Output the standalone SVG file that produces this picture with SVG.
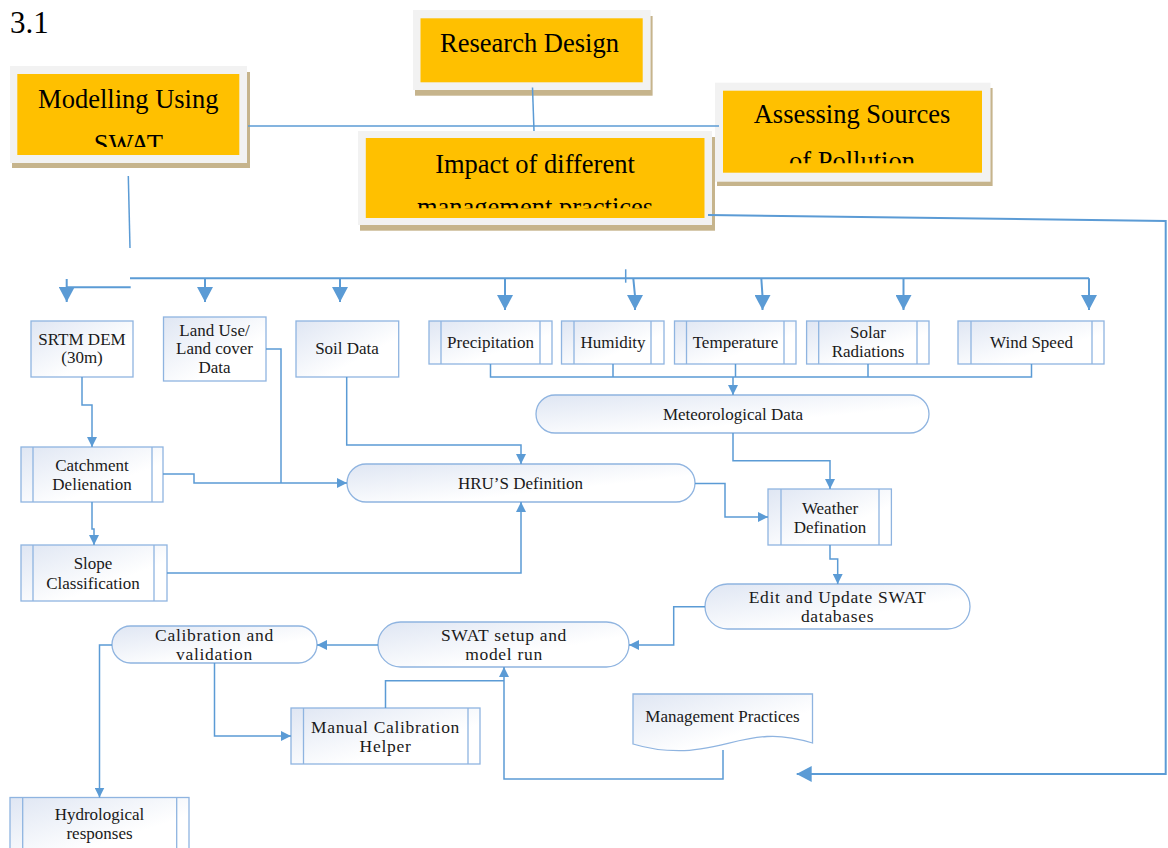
<svg xmlns="http://www.w3.org/2000/svg" width="1168" height="848" viewBox="0 0 1168 848">
  <defs>
    <linearGradient id="fillGrad" x1="0" y1="0" x2="1" y2="1">
      <stop offset="0" stop-color="#dfe6f3"/>
      <stop offset="0.65" stop-color="#ffffff"/>
      <stop offset="1" stop-color="#ffffff"/>
    </linearGradient>
    <marker id="arr" viewBox="0 0 10 10" refX="10" refY="5" markerWidth="10" markerHeight="10" markerUnits="userSpaceOnUse" orient="auto">
      <path d="M0,0 L10,5 L0,10 Z" fill="#5b9bd5"/>
    </marker>
    <marker id="arrBig" viewBox="0 0 15 16" refX="15" refY="8" markerWidth="15" markerHeight="16" markerUnits="userSpaceOnUse" orient="auto">
      <path d="M0,0 L15,8 L0,16 Z" fill="#5b9bd5"/>
    </marker>
    <clipPath id="clipModel"><rect x="10" y="60" width="240" height="87"/></clipPath>
    <clipPath id="clipAssess"><rect x="715" y="80" width="280" height="83.3"/></clipPath>
    <clipPath id="clipImpact"><rect x="358" y="130" width="360" height="78.3"/></clipPath>
  </defs>
  <style>
    .conn { fill: none; stroke: #5b9bd5; stroke-width: 1.5; }
    .thick { stroke-width: 2; }
    .node { fill: url(#fillGrad); stroke: #8fb4e0; stroke-width: 1.3; }
    .bar { fill: none; stroke: #8fb4e0; stroke-width: 1.3; }
    .shadow { fill: #c6b48c; }
    .frame { fill: #f2f2f2; }
    .gold { fill: #ffc000; }
    .t { font-family: 'Liberation Serif', serif; font-size: 17px; fill: #1a1a1a; text-anchor: middle; }
    .t2 { font-size: 17.5px; letter-spacing: 0.7px; }
    .big { font-family: 'Liberation Serif', serif; font-size: 26.5px; fill: #000; text-anchor: middle; }
  </style>

  <rect width="1168" height="848" fill="#ffffff"/>

  <text x="10" y="32.5" font-family="Liberation Serif, serif" font-size="31" fill="#000">3.1</text>

  <!-- Header boxes -->
  <g id="research-design">
    <rect class="shadow" x="415" y="16" width="237.6" height="79.7"/>
    <rect class="frame" x="413" y="10" width="237.6" height="80"/>
    <rect class="gold" x="420.5" y="18.3" width="222.2" height="64"/>
    <text class="big" x="529.5" y="52">Research Design</text>
  </g>

  <g id="modelling-swat">
    <rect class="shadow" x="12" y="72" width="238" height="96"/>
    <rect class="frame" x="10" y="66" width="237" height="97"/>
    <rect class="gold" x="17.3" y="74" width="222" height="81"/>
    <g clip-path="url(#clipModel)">
      <text class="big" x="128.3" y="108">Modelling Using</text>
      <text class="big" x="128.3" y="152.5">SWAT</text>
    </g>
  </g>

  <g id="assessing-sources">
    <rect class="shadow" x="717" y="88" width="275.6" height="98"/>
    <rect class="frame" x="715" y="82.7" width="275.5" height="99"/>
    <rect class="gold" x="723" y="90.7" width="259" height="82"/>
    <g clip-path="url(#clipAssess)">
      <text class="big" x="852" y="123.3">Assessing Sources</text>
      <text class="big" x="852" y="169.5">of Pollution</text>
    </g>
  </g>

  <g id="impact-practices">
    <rect class="shadow" x="360" y="137" width="355" height="93.7"/>
    <rect class="frame" x="358" y="131" width="354" height="94"/>
    <rect class="gold" x="365.8" y="138" width="338.7" height="80"/>
    <g clip-path="url(#clipImpact)">
      <text class="big" x="535" y="172.7">Impact of different</text>
      <text class="big" x="535" y="215.5">management practices</text>
    </g>
  </g>

  <!-- Input data -->
  <g id="srtm-dem">
    <rect class="node" x="31" y="321" width="102" height="56"/>
    <text class="t" x="82" y="345">SRTM DEM</text>
    <text class="t" x="82" y="363">(30m)</text>
  </g>

  <g id="land-use">
    <rect class="node" x="163.5" y="317" width="102.5" height="64"/>
    <text class="t" x="214.5" y="335.7">Land Use/</text>
    <text class="t" x="214.5" y="354">Land cover</text>
    <text class="t" x="214.5" y="372.7">Data</text>
  </g>

  <g id="soil-data">
    <rect class="node" x="296" y="321" width="102.7" height="56"/>
    <text class="t" x="347" y="354">Soil Data</text>
  </g>

  <g id="precipitation">
    <rect class="node" x="429" y="321" width="123" height="43"/>
    <path class="bar" d="M441 321 V364 M540 321 V364"/>
    <text class="t" x="490.5" y="347.5">Precipitation</text>
  </g>

  <g id="humidity">
    <rect class="node" x="561.5" y="321" width="102.5" height="43"/>
    <path class="bar" d="M574 321 V364 M651 321 V364"/>
    <text class="t" x="613" y="347.5">Humidity</text>
  </g>

  <g id="temperature">
    <rect class="node" x="674.5" y="321" width="121.5" height="43"/>
    <path class="bar" d="M686.5 321 V364 M784 321 V364"/>
    <text class="t" x="735.5" y="347.5">Temperature</text>
  </g>

  <g id="solar-radiations">
    <rect class="node" x="806.6" y="321" width="122.4" height="43"/>
    <path class="bar" d="M818.7 321 V364 M917 321 V364"/>
    <text class="t" x="868" y="338">Solar</text>
    <text class="t" x="868" y="357">Radiations</text>
  </g>

  <g id="wind-speed">
    <rect class="node" x="958" y="321" width="146" height="43"/>
    <path class="bar" d="M971 321 V364 M1092 321 V364"/>
    <text class="t" x="1031.5" y="347.5">Wind Speed</text>
  </g>

  <g id="meteorological-data">
    <rect class="node" x="536" y="395" width="393" height="38" rx="19" ry="19"/>
    <text class="t" x="733" y="419.5">Meteorological Data</text>
  </g>

  <!-- Processing -->
  <g id="catchment">
    <rect class="node" x="21" y="447" width="142" height="55"/>
    <path class="bar" d="M33 447 V502 M152 447 V502"/>
    <text class="t" x="92" y="471">Catchment</text>
    <text class="t" x="92" y="490">Delienation</text>
  </g>

  <g id="hru-definition">
    <rect class="node" x="347" y="464" width="348" height="38" rx="19" ry="19"/>
    <text class="t" x="520.5" y="489">HRU’S Definition</text>
  </g>

  <g id="weather-definition">
    <rect class="node" x="768" y="489" width="123.4" height="56"/>
    <path class="bar" d="M781 489 V545 M879 489 V545"/>
    <text class="t" x="830" y="513.5">Weather</text>
    <text class="t" x="830" y="532.5">Defination</text>
  </g>

  <g id="slope">
    <rect class="node" x="21" y="545" width="146" height="56"/>
    <path class="bar" d="M33 545 V601 M154 545 V601"/>
    <text class="t" x="93" y="569">Slope</text>
    <text class="t" x="93" y="588.5">Classification</text>
  </g>

  <g id="edit-databases">
    <rect class="node" x="705" y="584" width="265" height="45" rx="22.5" ry="22.5"/>
    <text class="t t2" x="837.6" y="602.5">Edit and Update SWAT</text>
    <text class="t t2" x="837.6" y="621.5">databases</text>
  </g>

  <g id="swat-setup">
    <rect class="node" x="378" y="622" width="251" height="45" rx="22.5" ry="22.5"/>
    <text class="t t2" x="504" y="641">SWAT setup and</text>
    <text class="t t2" x="504" y="660">model run</text>
  </g>

  <g id="calibration">
    <rect class="node" x="112" y="626" width="205" height="37" rx="18.5" ry="18.5"/>
    <text class="t t2" x="214.5" y="641">Calibration and</text>
    <text class="t t2" x="214.5" y="660">validation</text>
  </g>

  <g id="manual-calibration">
    <rect class="node" x="291" y="708" width="189" height="56"/>
    <path class="bar" d="M303.5 708 V764 M468 708 V764"/>
    <text class="t t2" x="385.5" y="732.5">Manual Calibration</text>
    <text class="t t2" x="385.5" y="751.5">Helper</text>
  </g>

  <g id="management-practices">
    <path class="node" d="M633 694 H812.5 V743 C796 738 782 735.5 767 736.5 C738 738 712 750.5 680 750.7 C662 750.8 646 748 633 744 Z"/>
    <text class="t" x="722.5" y="721.5">Management Practices</text>
  </g>

  <g id="hydrological-responses">
    <rect class="node" x="10" y="797.5" width="179" height="60"/>
    <path class="bar" d="M22.7 797.5 V857.5 M176.7 797.5 V857.5"/>
    <text class="t" x="99.5" y="820">Hydrological</text>
    <text class="t" x="99.5" y="839">responses</text>
  </g>

  <!-- Connectors -->
  <g id="connectors">
    <path class="conn" d="M532.5 87.5 L534 131"/>
    <path class="conn" d="M248 126 H719"/>
    <path class="conn" d="M128.3 176 L130 248"/>
    <path class="conn thick" d="M708 215 L1165.7 221 V774 H796.7" marker-end="url(#arrBig)"/>

    <path class="conn thick" d="M130 278.3 H1089"/>
    <path class="conn thick" d="M66.7 287.3 H130.7"/>
    <path class="conn" d="M625.7 269.3 V282.7"/>
    <path class="conn thick" d="M66.7 279 V302" marker-end="url(#arrBig)"/>
    <path class="conn thick" d="M205 278.3 V302" marker-end="url(#arrBig)"/>
    <path class="conn thick" d="M340 278.3 V302" marker-end="url(#arrBig)"/>
    <path class="conn thick" d="M505 278.3 V310" marker-end="url(#arrBig)"/>
    <path class="conn thick" d="M633.3 278.3 L635 296 V310" marker-end="url(#arrBig)"/>
    <path class="conn thick" d="M761.3 278.3 L762.5 296 V310" marker-end="url(#arrBig)"/>
    <path class="conn thick" d="M903.5 278.3 V310" marker-end="url(#arrBig)"/>
    <path class="conn thick" d="M1089 278.3 V310" marker-end="url(#arrBig)"/>

    <path class="conn" d="M490.5 364 V377 H1031.5 V364 M613 364 V377 M735.5 364 V377 M868 364 V377"/>
    <path class="conn" d="M733 377 V395" marker-end="url(#arr)"/>
    <path class="conn" d="M733 433 V460.7 H830 V489" marker-end="url(#arr)"/>

    <path class="conn" d="M82 377 V405 H92 V447" marker-end="url(#arr)"/>
    <path class="conn" d="M266 349 H281 V483"/>
    <path class="conn" d="M163 474 H194 V483 H347" marker-end="url(#arr)"/>
    <path class="conn" d="M346.7 377 V445 H521 V464" marker-end="url(#arr)"/>
    <path class="conn" d="M92 502 V529 H94 V545" marker-end="url(#arr)"/>
    <path class="conn" d="M167 573 H521 V502" marker-end="url(#arr)"/>
    <path class="conn" d="M695 483.5 H725 V517 H768" marker-end="url(#arr)"/>
    <path class="conn" d="M830 545 V559 H837.7 V584" marker-end="url(#arr)"/>
    <path class="conn" d="M705 606.7 H673.7 V645 H629" marker-end="url(#arr)"/>
    <path class="conn" d="M378 645 H317" marker-end="url(#arr)"/>
    <path class="conn" d="M112 645 H99.5 V797.5" marker-end="url(#arr)"/>
    <path class="conn" d="M214.5 663 V736 H291" marker-end="url(#arr)"/>
    <path class="conn" d="M385.5 708 V680.7 H504"/>
    <path class="conn" d="M723 750 V779 H504 V667" marker-end="url(#arr)"/>
  </g>
</svg>
